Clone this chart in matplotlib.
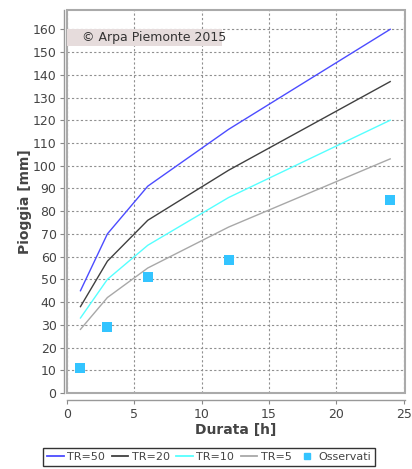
import matplotlib
matplotlib.use("Agg")
import matplotlib.pyplot as plt
from matplotlib.patches import Rectangle
from matplotlib.lines import Line2D

durata = [1, 3, 6, 12, 24]
tr50 = [45, 70, 91, 116, 160]
tr20 = [38, 58, 76, 98, 137]
tr10 = [33, 50, 65, 86, 120]
tr5 = [28, 42, 55, 73, 103]
obs_x = [1, 3, 6, 12, 24]
obs_y = [11, 29, 51, 58.5, 85]

series_names = ["TR=50", "TR=20", "TR=10", "TR=5"]
series_colors = ["#4c4cff", "#404040", "#55ffff", "#a8a8a8"]
obs_color = "#33c4ff"

fig = plt.figure(figsize=(4.12, 4.69), dpi=100)
ax = fig.add_axes([67/412, 1-393/469, (405-67)/412, (393-10)/469])

for ys, c in zip([tr50, tr20, tr10, tr5], series_colors):
    ax.plot(durata, ys, color=c, lw=1.0, zorder=3)
ax.scatter(obs_x, obs_y, marker="s", s=52, color=obs_color, zorder=4, linewidths=0)

ax.set_xlim(0, 25.1)
ax.set_ylim(0, 168.5)
ax.set_xticks(range(0, 26, 5))
ax.set_yticks(range(0, 161, 10))
ax.grid(True, color="#909090", ls=(0, (2, 2)), lw=0.8)
ax.set_axisbelow(True)

tc = "#444444"
for s in ["top", "right"]:
    ax.spines[s].set_visible(False)
ax.spines["bottom"].set_position(("outward", 5))
ax.spines["left"].set_position(("outward", 2))
for s in ["bottom", "left"]:
    ax.spines[s].set_color("#999999")
    ax.spines[s].set_linewidth(1.0)
ax.add_patch(Rectangle((0, 0), 1, 1, transform=ax.transAxes, fill=False,
                       edgecolor="#aaaaaa", lw=1.5, zorder=5, clip_on=False))
ax.tick_params(axis="both", colors="#888888", labelcolor=tc, labelsize=9,
               length=3, direction="out", pad=2.5)

ax.set_xlabel("Durata [h]", fontsize=10, fontweight="bold", color=tc, va="center")
ax.xaxis.set_label_coords(0.5, -37/383)
ax.set_ylabel("Pioggia [mm]", fontsize=10, fontweight="bold", color=tc, va="center")
ax.yaxis.set_label_coords(-42/338, 0.5)

ax.add_patch(Rectangle((0, 152.6), 11.5, 7.4, facecolor="#e6dcdc", edgecolor="none",
                       zorder=5))
ax.text(1.15, 156.3, "© Arpa Piemonte 2015", ha="left", va="center", fontsize=9,
        color="#333333", zorder=6)

handles = [Line2D([], [], color=c, lw=1.3) for c in series_colors]
handles.append(Line2D([], [], marker="s", color=obs_color, ls="none", markersize=5))
leg = fig.legend(handles, series_names + ["Osservati"], loc="center",
                 bbox_to_anchor=(209/412, 1-457/469), ncol=5, fontsize=8,
                 frameon=True, fancybox=False, edgecolor="black",
                 handlelength=1.5, handletextpad=0.3, columnspacing=0.6,
                 borderpad=0.35, labelcolor=tc, borderaxespad=0)
leg.get_frame().set_linewidth(1.0)

fig.savefig("out.png", dpi=100)
